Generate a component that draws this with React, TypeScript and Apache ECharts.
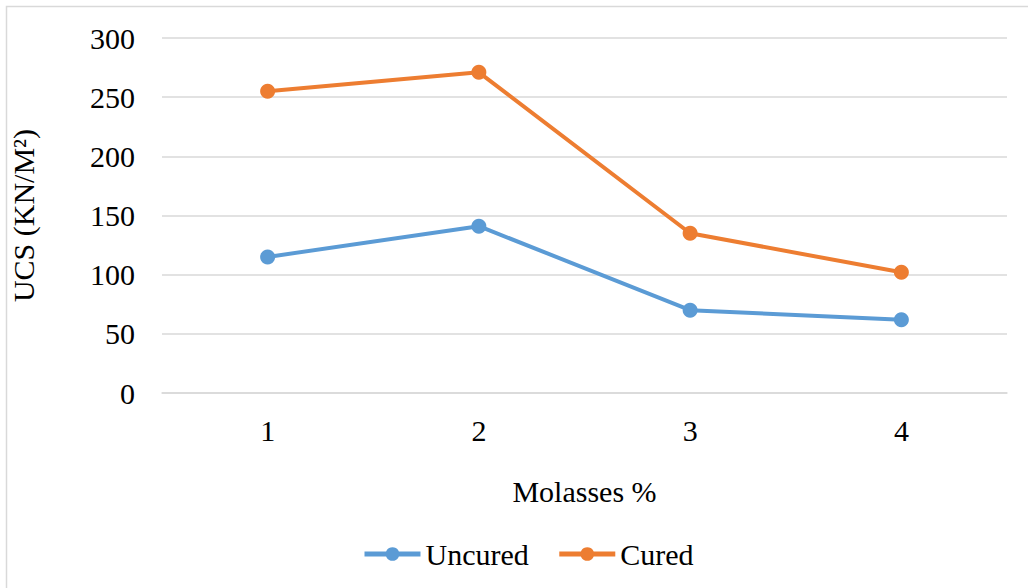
import React, { useEffect, useRef } from "react";
import * as echarts from "echarts";

const categories = ["1", "2", "3", "4"];
const uncured = [115, 141, 70, 62];
const cured = [255, 271, 135, 102];
const yTicks = { min: 0, max: 300, interval: 50 };

const FONT = "Liberation Serif";

export default function App() {
  const ref = useRef<HTMLDivElement>(null);
  useEffect(() => {
    if (!ref.current) return;
    const chart = echarts.init(ref.current, undefined, { renderer: "svg" });
    chart.setOption({
      animation: false,
      backgroundColor: "#ffffff",
      textStyle: { fontFamily: FONT, color: "#000" },
      graphic: [
        {
          type: "rect",
          shape: { x: 6.5, y: 6.5, width: 1040, height: 600 },
          style: { fill: "none", stroke: "#d9d9d9", lineWidth: 1.5 },
          silent: true,
        },
      ],
      grid: { left: 160, right: 21, top: 38, bottom: 195 },
      legend: {
        data: ["Uncured", "Cured"],
        left: 357,
        top: 534,
        itemWidth: 56,
        itemHeight: 17,
        itemGap: 28,
        lineStyle: { width: 5 },
        textStyle: { fontFamily: FONT, fontSize: 30, color: "#000" },
      },
      xAxis: {
        type: "category",
        data: categories,
        boundaryGap: true,
        name: "Molasses %",
        nameLocation: "middle",
        nameGap: 83,
        nameTextStyle: { fontFamily: FONT, fontSize: 30, color: "#000" },
        axisLine: { show: true, lineStyle: { color: "#d9d9d9", width: 1.5 } },
        axisTick: { show: false },
        axisLabel: { fontFamily: FONT, fontSize: 30, color: "#000", margin: 22 },
      },
      yAxis: {
        type: "value",
        min: yTicks.min,
        max: yTicks.max,
        interval: yTicks.interval,
        name: "UCS (KN/M²)",
        nameLocation: "middle",
        nameGap: 124,
        nameRotate: 90,
        nameTextStyle: { fontFamily: FONT, fontSize: 30, color: "#000" },
        axisLine: { show: false },
        axisTick: { show: false },
        axisLabel: { fontFamily: FONT, fontSize: 30, color: "#000", margin: 27 },
        splitLine: { lineStyle: { color: "#d9d9d9", width: 1.5 } },
      },
      series: [
        {
          name: "Uncured",
          type: "line",
          data: uncured,
          symbol: "circle",
          symbolSize: 15,
          lineStyle: { width: 4, color: "#5B9BD5" },
          itemStyle: { color: "#5B9BD5" },
        },
        {
          name: "Cured",
          type: "line",
          data: cured,
          symbol: "circle",
          symbolSize: 15,
          lineStyle: { width: 4, color: "#ED7D31" },
          itemStyle: { color: "#ED7D31" },
        },
      ],
    });
    return () => chart.dispose();
  }, []);
  return (
    <div
      ref={ref}
      style={{ position: "fixed", left: 0, top: 0, width: 1028, height: 588 }}
    />
  );
}
